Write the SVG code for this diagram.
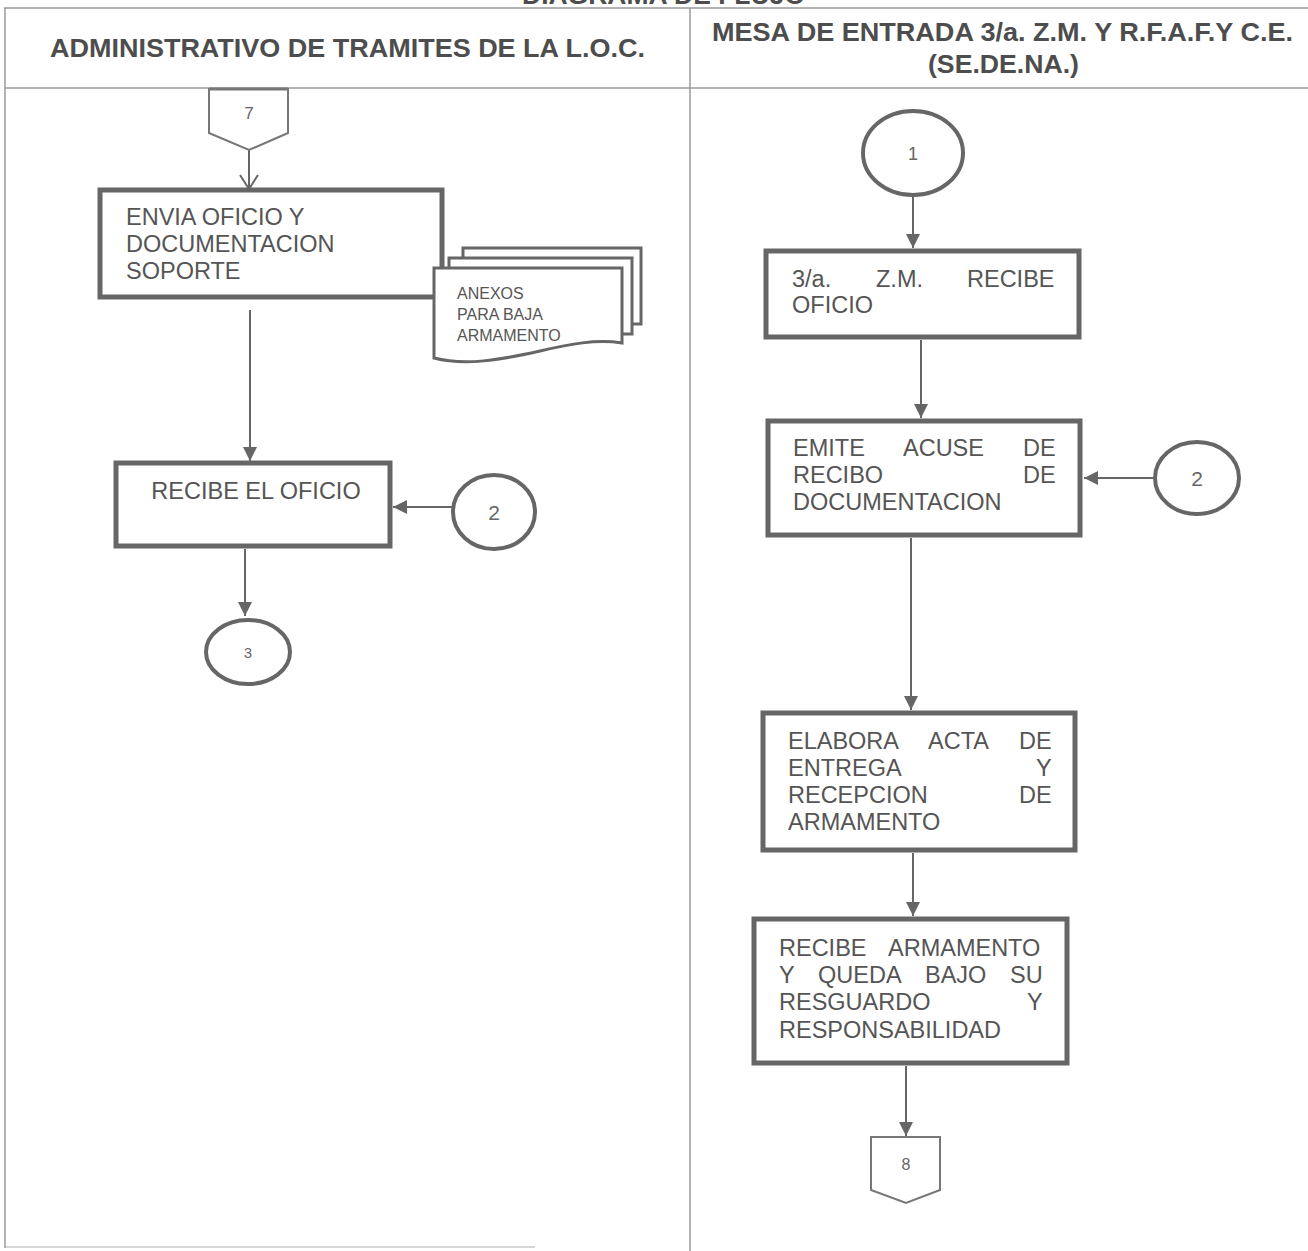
<svg xmlns="http://www.w3.org/2000/svg" width="1308" height="1251" viewBox="0 0 1308 1251">
<defs>
<style>
.lane{stroke:#9a9a9a;stroke-width:1.5;fill:none}
.hdr{font-family:"Liberation Sans",Arial,sans-serif;font-weight:bold;font-size:26px;fill:#4d4d4d}
.box{fill:#fff;stroke:#666;stroke-width:5}
.doc{fill:#fff;stroke:#666;stroke-width:3}
.circ{fill:#fff;stroke:#666;stroke-width:4}
.off{fill:#fff;stroke:#777;stroke-width:2}
.t{font-family:"Liberation Sans",Arial,sans-serif;font-size:23.5px;fill:#555}
.ts{font-family:"Liberation Sans",Arial,sans-serif;font-size:16px;fill:#555}
.tc{font-family:"Liberation Sans",Arial,sans-serif;fill:#666;text-anchor:middle}
.con{stroke:#666;stroke-width:2;fill:none}
</style>
<marker id="arr" markerUnits="userSpaceOnUse" markerWidth="16" markerHeight="14" refX="14" refY="7" orient="auto">
<path d="M0,0 L14,7 L0,14 Z" fill="#666"/>
</marker>
</defs>
<rect width="1308" height="1251" fill="#fff"/>

<g id="lanes">
<text class="hdr" x="522" y="4" textLength="283" lengthAdjust="spacingAndGlyphs">DIAGRAMA DE FLUJO</text>
<line class="lane" x1="4" y1="8" x2="1308" y2="8"/>
<line class="lane" x1="5" y1="8" x2="5" y2="1248"/>
<line class="lane" x1="690" y1="8" x2="690" y2="1251"/>
<line class="lane" x1="5" y1="88" x2="1308" y2="88"/>
<line class="lane" x1="5" y1="1247" x2="535" y2="1247" stroke-opacity="0.5"/>
<text class="hdr" x="50" y="57" textLength="595" lengthAdjust="spacingAndGlyphs">ADMINISTRATIVO DE TRAMITES DE LA L.O.C.</text>
<text class="hdr" x="712" y="41" textLength="581" lengthAdjust="spacingAndGlyphs">MESA DE ENTRADA 3/a. Z.M. Y R.F.A.F.Y C.E.</text>
<text class="hdr" x="928" y="73" textLength="151" lengthAdjust="spacingAndGlyphs">(SE.DE.NA.)</text>
</g>

<g id="connectors">
<line class="con" x1="249" y1="150" x2="249" y2="189"/>
<polyline class="con" points="240,175 249,189 258,175"/>
<line class="con" x1="250" y1="310" x2="250" y2="461" marker-end="url(#arr)"/>
<line class="con" x1="453" y1="507" x2="393" y2="507" marker-end="url(#arr)"/>
<line class="con" x1="245" y1="549" x2="245" y2="616" marker-end="url(#arr)"/>
<line class="con" x1="913" y1="195" x2="913" y2="248" marker-end="url(#arr)"/>
<line class="con" x1="921" y1="340" x2="921" y2="418" marker-end="url(#arr)"/>
<line class="con" x1="1155" y1="478" x2="1084" y2="478" marker-end="url(#arr)"/>
<line class="con" x1="911" y1="538" x2="911" y2="710" marker-end="url(#arr)"/>
<line class="con" x1="913" y1="853" x2="913" y2="916" marker-end="url(#arr)"/>
<line class="con" x1="906" y1="1066" x2="906" y2="1136" marker-end="url(#arr)"/>
</g>

<g id="off7">
<polygon class="off" points="209,89 288,89 288,133 249,150 209,133"/>
<line x1="209" y1="89" x2="288" y2="89" stroke="#777" stroke-width="3"/>
<text class="tc" x="249" y="119" font-size="17">7</text>
</g>

<g id="envia">
<rect class="box" x="100" y="190" width="342" height="107"/>
<text class="t" x="126" y="225">ENVIA OFICIO Y</text>
<text class="t" x="126" y="252">DOCUMENTACION</text>
<text class="t" x="126" y="279">SOPORTE</text>
</g>

<g id="anexos">
<rect class="doc" x="463" y="248" width="178" height="76"/>
<rect class="doc" x="449" y="258" width="183" height="76"/>
<path class="doc" d="M434,268 H622 V343 C596,339 570,344 540,351 C500,360 465,366 434,358 Z"/>
<text class="ts" x="457" y="299">ANEXOS</text>
<text class="ts" x="457" y="320">PARA BAJA</text>
<text class="ts" x="457" y="341">ARMAMENTO</text>
</g>

<g id="recibe-oficio">
<rect class="box" x="116" y="463" width="274" height="83"/>
<text class="t" x="256" y="499" text-anchor="middle">RECIBE EL OFICIO</text>
</g>

<g id="c2-left">
<ellipse class="circ" cx="494" cy="512" rx="41" ry="37"/>
<text class="tc" x="494" y="520" font-size="21">2</text>
</g>

<g id="c3">
<ellipse class="circ" cx="248" cy="652" rx="42" ry="32"/>
<text class="tc" x="248" y="658" font-size="15">3</text>
</g>

<g id="c1">
<ellipse class="circ" cx="913" cy="153" rx="50" ry="42"/>
<text class="tc" x="913" y="160" font-size="18">1</text>
</g>

<g id="zm-recibe">
<rect class="box" x="766" y="251" width="313" height="86"/>
<text class="t" y="287"><tspan x="792">3/a.</tspan><tspan x="876">Z.M.</tspan><tspan x="967">RECIBE</tspan></text>
<text class="t" x="792" y="313">OFICIO</text>
</g>

<g id="emite">
<rect class="box" x="768" y="421" width="312" height="114"/>
<text class="t" y="456"><tspan x="793">EMITE</tspan><tspan x="903">ACUSE</tspan><tspan x="1023">DE</tspan></text>
<text class="t" y="483"><tspan x="793">RECIBO</tspan><tspan x="1023">DE</tspan></text>
<text class="t" x="793" y="510">DOCUMENTACION</text>
</g>

<g id="c2-right">
<ellipse class="circ" cx="1197" cy="478" rx="42" ry="36"/>
<text class="tc" x="1197" y="486" font-size="21">2</text>
</g>

<g id="elabora">
<rect class="box" x="763" y="713" width="312" height="137"/>
<text class="t" y="749"><tspan x="788">ELABORA</tspan><tspan x="928">ACTA</tspan><tspan x="1019">DE</tspan></text>
<text class="t" y="776"><tspan x="788">ENTREGA</tspan><tspan x="1036">Y</tspan></text>
<text class="t" y="803"><tspan x="788">RECEPCION</tspan><tspan x="1019">DE</tspan></text>
<text class="t" x="788" y="830">ARMAMENTO</text>
</g>

<g id="recibe-armamento">
<rect class="box" x="754" y="919" width="313" height="144"/>
<text class="t" y="956"><tspan x="779">RECIBE</tspan><tspan x="888">ARMAMENTO</tspan></text>
<text class="t" y="983"><tspan x="779">Y</tspan><tspan x="818">QUEDA</tspan><tspan x="925">BAJO</tspan><tspan x="1010">SU</tspan></text>
<text class="t" y="1010"><tspan x="779">RESGUARDO</tspan><tspan x="1027">Y</tspan></text>
<text class="t" x="779" y="1038">RESPONSABILIDAD</text>
</g>

<g id="off8">
<polygon class="off" points="871,1137 940,1137 940,1190 906,1203 871,1190"/>
<text class="tc" x="906" y="1170" font-size="16">8</text>
</g>
</svg>
